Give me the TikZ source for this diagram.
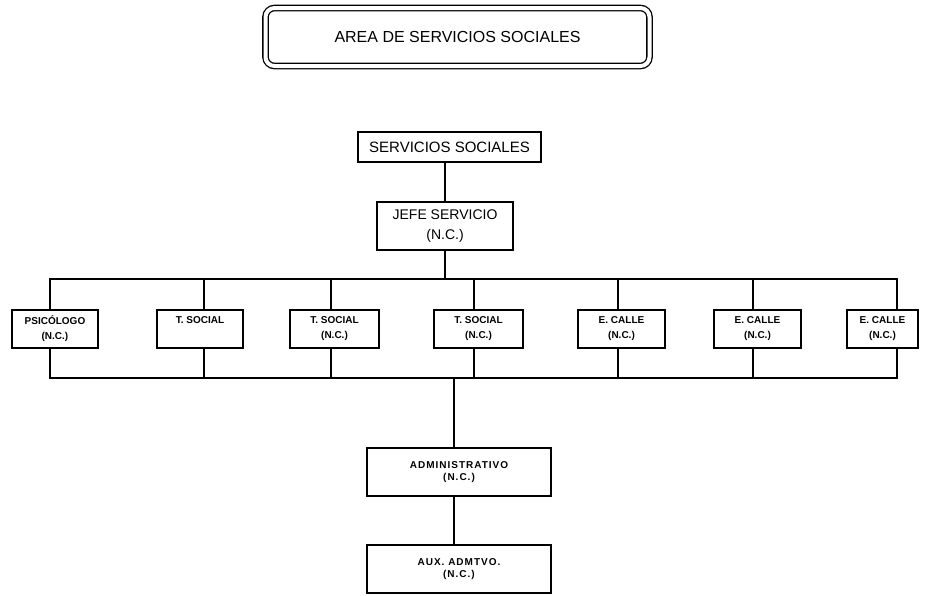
\documentclass[tikz,border=0pt]{standalone}
\usepackage{fontspec}
\setmainfont{Liberation Sans}
\begin{document}
\begin{tikzpicture}[x=1pt,y=-1pt,
  conn/.style={line width=1.6pt, line cap=rect},
  box/.style={draw, line width=1.5pt, inner sep=0pt, align=center},
  rowbox/.style={box, minimum height=38pt, font=\fontsize{10}{15}\selectfont\bfseries},
  lowbox/.style={box, minimum width=184pt, minimum height=48pt, font=\fontsize{10}{12.5}\selectfont\bfseries\addfontfeatures{LetterSpace=10}},
]
\useasboundingbox[fill=white] (0,0) rectangle (926,595);
% title
\node[draw, double, line width=1.3pt, double distance=4pt, rounded corners=9pt,
      minimum width=384pt, minimum height=58pt, font=\fontsize{16}{19}\selectfont]
      (title) at (457.5,37) {AREA DE SERVICIOS SOCIALES};
% top boxes
\node[box, minimum width=183pt, minimum height=30pt, font=\fontsize{15}{18}\selectfont]
      (ss) at (449.5,147) {SERVICIOS SOCIALES};
\node[box, minimum width=136pt, minimum height=48pt, font=\fontsize{14}{20}\selectfont]
      (jefe) at (445,226) {JEFE SERVICIO\\(N.C.)};
% row
\node[rowbox, minimum width=86pt] (b1) at (55,329) {PSICÓLOGO\\(N.C.)};
\node[rowbox, minimum width=86pt] (b2) at (200,329) {T. SOCIAL\\\phantom{(N.C.)}};
\node[rowbox, minimum width=89pt] (b3) at (334.5,329) {T. SOCIAL\\(N.C.)};
\node[rowbox, minimum width=89pt] (b4) at (478.5,329) {T. SOCIAL\\(N.C.)};
\node[rowbox, minimum width=87pt] (b5) at (621.5,329) {E. CALLE\\(N.C.)};
\node[rowbox, minimum width=87pt] (b6) at (757.5,329) {E. CALLE\\(N.C.)};
\node[rowbox, minimum width=71pt] (b7) at (882.5,329) {E. CALLE\\(N.C.)};
% bottom
\node[lowbox] (adm) at (459,472) {ADMINISTRATIVO\\(N.C.)};
\node[lowbox] (aux) at (459,569) {AUX. ADMTVO.\\(N.C.)};
% bus coordinates
\coordinate (ub) at (0,279);
\coordinate (lb) at (0,378);
\coordinate (t1) at (50,0);
\coordinate (t2) at (204,0);
\coordinate (t3) at (331,0);
\coordinate (t4) at (474,0);
\coordinate (t5) at (618,0);
\coordinate (t6) at (753,0);
\coordinate (t7) at (897,0);
\coordinate (td) at (454,0);
% connectors
\draw[conn] (ss.south -| jefe) -- (jefe.north);
\draw[conn] (jefe.south) -- (jefe.south |- ub);
\draw[conn] (t1 |- ub) -- (t7 |- ub);
\draw[conn] (t1 |- lb) -- (t7 |- lb);
\foreach \i in {1,...,7}{
  \draw[conn] (t\i |- ub) -- (t\i |- b\i.north);
  \draw[conn] (t\i |- b\i.south) -- (t\i |- lb);
}
\draw[conn] (td |- lb) -- (td |- adm.north);
\draw[conn] (td |- adm.south) -- (td |- aux.north);
\end{tikzpicture}
\end{document}
